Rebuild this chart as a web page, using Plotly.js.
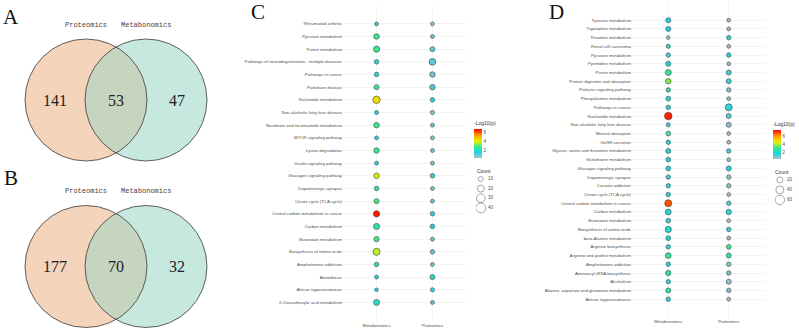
<!DOCTYPE html>
<html><head><meta charset="utf-8">
<script src="https://cdn.plot.ly/plotly-3.0.1.min.js"></script>
<style>html,body{margin:0;padding:0;background:#fff}#chart{width:799px;height:335px}</style>
</head><body><div id="chart"></div>
<script>
// ---------- Venn data ----------
const vennSets = ['Proteomics', 'Metabonomics'];
const vennACounts = [141, 53, 47];   // only proteomics, both, only metabonomics
const vennBCounts = [177, 70, 32];

// ---------- Panel C data ----------
const omics = ['Metabonomics', 'Proteomics'];
const cPathways = ['Rheumatoid arthritis','Pyruvate metabolism','Purine metabolism',
 'Pathways of neurodegeneration - multiple diseases','Pathways in cancer','Parkinson disease',
 'Nucleotide metabolism','Non-alcoholic fatty liver disease','Nicotinate and nicotinamide metabolism',
 'MTOR signaling pathway','Lysine degradation','Insulin signaling pathway','Glucagon signaling pathway',
 'Dopaminergic synapse','Citrate cycle (TCA cycle)','Central carbon metabolism in cancer',
 'Carbon metabolism','Butanoate metabolism','Biosynthesis of amino acids','Amphetamine addiction',
 'Amoebiasis','African trypanosomiasis','2-Oxocarboxylic acid metabolism'];
const cMetaCount = [6,12,15,8,8,10,22,6,12,6,12,6,12,8,10,16,15,11,20,8,6,5,14];
const cMetaLogP  = [1.5,2.6,2.8,1.8,1.8,2.7,4.3,1.5,2.7,1.4,2.6,1.4,4.0,2.0,2.8,6.6,2.3,2.8,3.7,2.0,1.6,1.5,2.0];
const cProtCount = [6,6,10,18,12,12,8,7,6,6,6,6,8,6,6,8,8,6,8,6,10,7,6];
const cProtLogP  = [0.6,0.8,0.9,1.0,0.7,1.0,1.5,0.6,0.9,0.6,0.8,0.6,1.7,0.6,0.9,1.4,1.6,0.8,0.9,0.7,2.0,1.7,0.9];
const cLegendCounts = ['10','20','30','40'];
const cColorTicks = [2,4,6];

// ---------- Panel D data ----------
const dPathways = ['Tyrosine metabolism','Tryptophan metabolism','Thiamine metabolism','Renal cell carcinoma',
 'Pyruvate metabolism','Pyrimidine metabolism','Purine metabolism','Protein digestion and absorption',
 'Prolactin signaling pathway','Phenylalanine metabolism','Pathways in cancer','Nucleotide metabolism',
 'Non-alcoholic fatty liver disease','Mineral absorption','GnRH secretion',
 'Glycine, serine and threonine metabolism','Glutathione metabolism','Glucagon signaling pathway',
 'Dopaminergic synapse','Cocaine addiction','Citrate cycle (TCA cycle)','Central carbon metabolism in cancer',
 'Carbon metabolism','Butanoate metabolism','Biosynthesis of amino acids','beta-Alanine metabolism',
 'Arginine biosynthesis','Arginine and proline metabolism','Amphetamine addiction','Aminoacyl-tRNA biosynthesis',
 'Alcoholism','Alanine, aspartate and glutamate metabolism','African trypanosomiasis'];
const dMetaCount = [12,12,3,6,8,12,20,15,8,10,8,35,6,10,8,12,10,10,8,8,8,30,18,10,22,10,8,18,8,14,8,12,8];
const dMetaLogP  = [1.8,1.8,0.8,2.3,1.6,1.9,2.9,3.8,2.6,2.0,1.7,7.3,1.6,2.9,1.7,1.9,1.8,1.8,1.7,1.7,1.8,6.8,2.0,1.7,2.2,1.8,1.8,2.8,1.8,2.7,1.7,2.6,1.8];
const dProtCount = [4,4,8,4,8,4,12,12,8,4,30,12,12,4,4,8,4,12,8,8,4,8,14,4,8,4,10,12,8,8,12,8,4];
const dProtLogP  = [0.6,0.6,2.2,0.6,1.8,0.6,1.4,1.5,1.0,0.7,1.6,1.2,0.8,0.6,0.6,1.4,0.7,1.8,0.7,0.7,0.6,1.3,1.8,0.5,1.6,0.6,3.2,2.7,0.9,1.0,0.7,1.0,0.6];
const dLegendCounts = ['20','40','60'];
const dColorTicks = [2,4,6];

// ---------- helpers ----------
const W = 799, H = 335;
const px = v => v / W;             // x pixel -> paper
const py = v => (H - v) / H;       // y pixel (from top) -> paper
const sizeC = c => Math.sqrt(2.5 * c);
const sizeD = c => Math.sqrt(8.9 + 1.356 * c);
const cscale = [[0,'#aebdc6'],[0.2,'#1ad6de'],[0.4,'#3cec86'],[0.58,'#e8f000'],[0.78,'#ffa200'],[1,'#ff0000']];
const tickFont = {family:'Liberation Sans, Arial, sans-serif', size:4.3, color:'#4d4d4d'};
const grid = '#ececec';

function bubbleTrace(paths, mc, mp, pc, pp, sizeFn, xa, ya, cmin, cmax, cbx, cby) {
  return {
    type:'scatter', mode:'markers', xaxis:xa, yaxis:ya,
    x: paths.map(()=>omics[0]).concat(paths.map(()=>omics[1])),
    y: paths.concat(paths),
    marker:{
      size: mc.concat(pc).map(sizeFn), sizemode:'diameter',
      color: mp.concat(pp), colorscale: cscale, cmin: cmin, cmax: cmax,
      line:{color:'#4a4a4a', width:0.65}, opacity:1,
      showscale:true,
      colorbar:{x:cbx, xanchor:'left', y:cby, yanchor:'middle', len:40, lenmode:'pixels',
        thickness:8, thicknessmode:'pixels', xpad:0, ypad:0, outlinewidth:0,
        tickvals: cColorTicks, ticks:'', tickfont:{family:'Liberation Sans, Arial', size:4.5, color:'#4d4d4d'},
        title:{text:'-Log10(p)', side:'top', font:{family:'Liberation Sans, Arial', size:5, color:'#333'}}}
    },
    hoverinfo:'skip'
  };
}

function legendTraces(counts, sizeFn, xa, ya) {
  return [
    {type:'scatter', mode:'markers', xaxis:xa, yaxis:ya, x: counts.map(()=>0.2), y: counts,
     marker:{size: counts.map(c=>sizeFn(+c)), color:'rgba(0,0,0,0)', line:{color:'#333', width:0.6}}, hoverinfo:'skip'},
    {type:'scatter', mode:'text', xaxis:xa, yaxis:ya, x: counts.map(()=>0.5), y: counts,
     text: counts, textposition:'middle right',
     textfont:{family:'Liberation Sans, Arial', size:4.5, color:'#4d4d4d'}, hoverinfo:'skip'}
  ];
}

const traces = [
  bubbleTrace(cPathways, cMetaCount, cMetaLogP, cProtCount, cProtLogP, sizeC, 'x2', 'y2', 0.2, 6.8, px(474), py(138)),
  bubbleTrace(dPathways, dMetaCount, dMetaLogP, dProtCount, dProtLogP, sizeD, 'x3', 'y3', 0.4, 7.6, px(773), py(139)),
  ...legendTraces(cLegendCounts, sizeC, 'x4', 'y4'),
  ...legendTraces(dLegendCounts, sizeD, 'x5', 'y5')
];

// ---------- Venn shapes ----------
const shapes = [], annotations = [];
function lensPath(cx1, cx2, cy, r) {
  const d = cx2 - cx1, a = Math.acos(d / 2 / r), n = 40, pts = [];
  for (let i = 0; i <= n; i++) { const t = -a + 2*a*i/n; pts.push([cx1 + r*Math.cos(t), cy + r*Math.sin(t)]); }
  for (let i = 0; i <= n; i++) { const t = Math.PI - a + 2*a*i/n; pts.push([cx2 + r*Math.cos(t), cy + r*Math.sin(t)]); }
  return 'M' + pts.map(p => p[0].toFixed(2) + ',' + p[1].toFixed(2)).join('L') + 'Z';
}
function venn(counts, cy, labelY, letter, letterY) {
  const cx1 = 86, cx2 = 146, r = 61;
  shapes.push({type:'circle', xref:'x', yref:'y', x0:cx1-r, x1:cx1+r, y0:cy-r, y1:cy+r, fillcolor:'#f5d4bc', line:{width:0}});
  shapes.push({type:'circle', xref:'x', yref:'y', x0:cx2-r, x1:cx2+r, y0:cy-r, y1:cy+r, fillcolor:'#c6e8df', line:{width:0}});
  shapes.push({type:'path', xref:'x', yref:'y', path: lensPath(cx1, cx2, cy, r), fillcolor:'#c5d5bf', line:{width:0}});
  shapes.push({type:'circle', xref:'x', yref:'y', x0:cx1-r, x1:cx1+r, y0:cy-r, y1:cy+r, line:{color:'#3a3a3a', width:0.8}});
  shapes.push({type:'circle', xref:'x', yref:'y', x0:cx2-r, x1:cx2+r, y0:cy-r, y1:cy+r, line:{color:'#3a3a3a', width:0.8}});
  const numX = [55, 116, 177];
  counts.forEach((c, i) => annotations.push({xref:'x', yref:'y', x:numX[i], y:cy, text:String(c), showarrow:false,
    font:{family:'Liberation Serif, Times New Roman, serif', size:16, color:'#222'}}));
  [cx1, cx2].forEach((x, i) => annotations.push({xref:'x', yref:'y', x:x, y:labelY, text:vennSets[i], showarrow:false,
    font:{family:'Liberation Mono, DejaVu Sans Mono, monospace', size:7, color:'#444'}}));
  annotations.push({xref:'x', yref:'y', x:11, y:letterY, text:letter, showarrow:false,
    font:{family:'Liberation Serif, Times New Roman, serif', size:21, color:'#111'}});
}
venn(vennACounts, 100, 25, 'A', 17);
venn(vennBCounts, 266.5, 191, 'B', 178);
annotations.push({xref:'x', yref:'y', x:258, y:12, text:'C', showarrow:false,
  font:{family:'Liberation Serif, Times New Roman, serif', size:21, color:'#111'}});
annotations.push({xref:'x', yref:'y', x:556, y:12, text:'D', showarrow:false,
  font:{family:'Liberation Serif, Times New Roman, serif', size:21, color:'#111'}});
annotations.push({xref:'x', yref:'y', x:475, y:171, xanchor:'left', text:'Count', showarrow:false,
  font:{family:'Liberation Sans, Arial', size:5, color:'#333'}});
annotations.push({xref:'x', yref:'y', x:773, y:172, xanchor:'left', text:'Count', showarrow:false,
  font:{family:'Liberation Sans, Arial', size:5, color:'#333'}});

const hidden = {visible:false, fixedrange:true};
const bubbleX = (d0, d1, anc) => ({domain:[px(d0), px(d1)], anchor:anc, type:'category', categoryorder:'array', categoryarray:omics,
  range:[-0.6,1.6], showgrid:true, gridcolor:grid, gridwidth:0.6, zeroline:false, showline:false, ticks:'',
  tickfont:tickFont, fixedrange:true, automargin:false});
const bubbleY = (cats, top, bot, anc) => ({domain:[py(bot), py(top)], anchor:anc, type:'category', categoryorder:'array', categoryarray:cats,
  autorange:'reversed', showgrid:true, gridcolor:grid, gridwidth:0.6, zeroline:false, showline:false, ticks:'',
  dtick:1, tickfont:tickFont, fixedrange:true, automargin:false});

const layout = {
  width: W, height: H, margin:{l:0, r:0, t:0, b:0}, showlegend:false,
  paper_bgcolor:'#ffffff', plot_bgcolor:'rgba(0,0,0,0)',
  xaxis: Object.assign({domain:[0,1], range:[0,W], anchor:'y'}, hidden),
  yaxis: Object.assign({domain:[0,1], range:[H,0], anchor:'x'}, hidden),
  xaxis2: bubbleX(343, 466, 'y2'), yaxis2: bubbleY(cPathways, 5, 322, 'x2'),
  xaxis3: bubbleX(632, 765, 'y3'), yaxis3: bubbleY(dPathways, 1.2, 318, 'x3'),
  xaxis4: Object.assign({domain:[px(476), px(500)], range:[0,1], anchor:'y4'}, hidden),
  yaxis4: Object.assign({domain:[py(216.3), py(173.7)], type:'category', categoryorder:'array', categoryarray:cLegendCounts, autorange:'reversed', anchor:'x4'}, hidden),
  xaxis5: Object.assign({domain:[px(775), px(799)], range:[0,1], anchor:'y5'}, hidden),
  yaxis5: Object.assign({domain:[py(207.5), py(174.5)], type:'category', categoryorder:'array', categoryarray:dLegendCounts, autorange:'reversed', anchor:'x5'}, hidden),
  shapes: shapes, annotations: annotations
};

Plotly.newPlot('chart', traces, layout, {staticPlot:true, displayModeBar:false});
</script></body></html>
